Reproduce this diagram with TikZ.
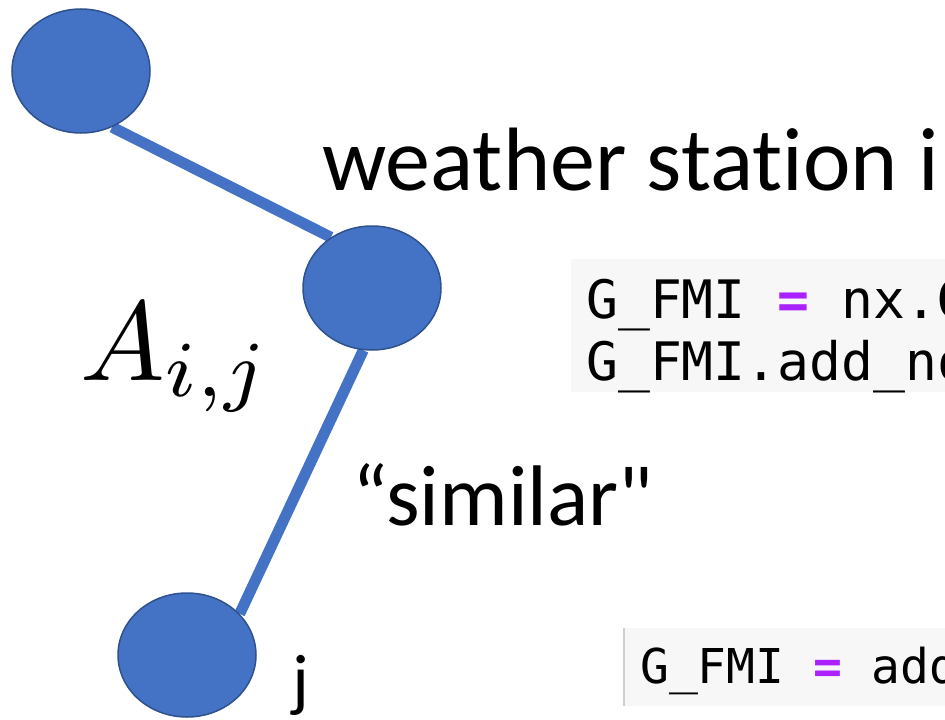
\documentclass[tikz,border=0pt]{standalone}
\usepackage{fontspec}
\usepackage{graphicx}
\newfontfamily\calib[Ligatures={NoCommon}]{Carlito}
\newfontfamily\codefont{DejaVu Sans Mono}
\usetikzlibrary{shapes.geometric,backgrounds}
\definecolor{nodeblue}{HTML}{4472C4}
\definecolor{nodeline}{HTML}{2F528F}
\definecolor{codebg}{HTML}{F7F7F7}
\definecolor{codeop}{HTML}{AA22FF}
\definecolor{codeborder}{HTML}{CFCFCF}
\newcommand{\eqop}{{\bfseries\color{codeop}=}}
\begin{document}
\begin{tikzpicture}[x=1pt,y=-1pt,
  station/.style={ellipse, fill=nodeblue, draw=nodeline, line width=1.5pt,
    minimum width=138pt, minimum height=124pt, inner sep=0pt},
  edgeline/.style={draw=nodeblue, line width=11pt},
  txtlabel/.style={inner sep=0pt, anchor=base west, font=\calib\fontsize{#1}{#1}\selectfont},
  codetxt/.style={inner sep=0pt, anchor=base west, font=\codefont\fontsize{#1}{#1}\selectfont},
]
\useasboundingbox (0,0) rectangle (945,720);
\begin{scope}
\clip (0,0) rectangle (945,720);
% code boxes
\fill[codebg] (571,259) rectangle (960,392);
\fill[codebg] (623,628) rectangle (960,706);
\draw[codeborder, line width=2pt] (624,628) -- (624,706);
\node[codetxt=53] (code1) at (586,318) {G\_FMI \eqop{} nx.Graph()};
\node[codetxt=53] (code2) at (586,380) {G\_FMI.add\_nodes\_from};
\node[codetxt=48] (code3) at (640,683) {G\_FMI \eqop{} add\_edges};
\end{scope}

% stations
\node[station] (c1) at (81,71) {};
\node[station] (c2) at (372,288) {};
\node[station] (c3) at (187,655) {};
\begin{scope}[on background layer]
\draw[edgeline] (c1.-61) -- (c2.129);
\draw[edgeline] (c2.-98) -- (c3.38);
\end{scope}

% labels
\node[txtlabel=90] (wlabel) at (322,190) {weather station i};
\node[txtlabel=86] (slabel) at (352,525) {“similar"};
\node[txtlabel=70] (jlabel) at (292,703) {j};
\node[inner sep=0pt, anchor=base west] (alabel) at (80,380) {\scalebox{11.3}{$A_{i,j}$}};
\end{tikzpicture}
\end{document}
